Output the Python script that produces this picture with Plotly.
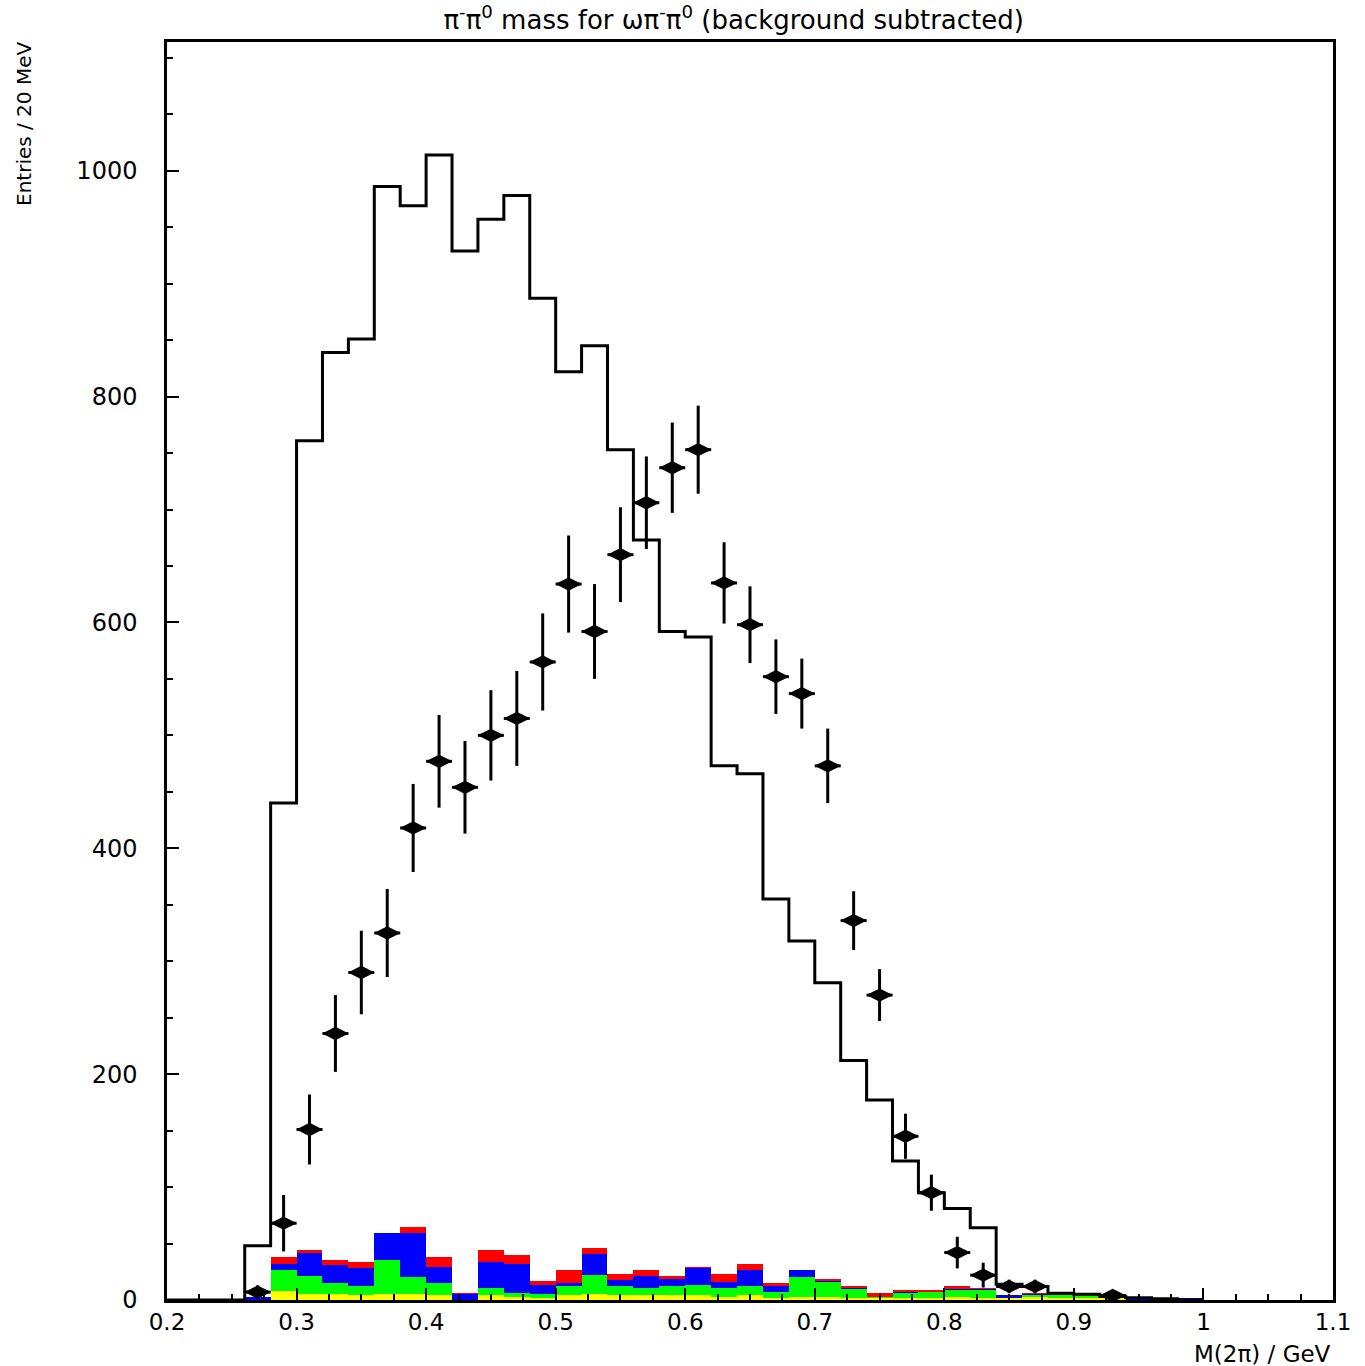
import plotly.graph_objects as go

# ---- data ----
bin_low = [0.20, 0.22, 0.24, 0.26, 0.28, 0.30, 0.32, 0.34, 0.36, 0.38,
           0.40, 0.42, 0.44, 0.46, 0.48, 0.50, 0.52, 0.54, 0.56, 0.58,
           0.60, 0.62, 0.64, 0.66, 0.68, 0.70, 0.72, 0.74, 0.76, 0.78,
           0.80, 0.82, 0.84, 0.86, 0.88, 0.90, 0.92, 0.94, 0.96, 0.98]
bin_width = 0.02

mc_hist = [0, 0, 0, 48, 440, 761, 839, 851, 986, 969,
           1014, 929, 957, 978, 887, 822, 845, 753, 673, 592,
           587, 473, 466, 355, 318, 281, 212, 177, 123, 95,
           81, 64, 14, 12, 6, 5, 3, 2, 1, 0]

bkg_red = [0, 0, 0, 3, 38, 44, 35, 34, 59, 65,
           38, 6, 44, 40, 17, 27, 46, 23, 27, 21,
           29, 23, 32, 15, 27, 19, 12, 6, 9, 9,
           12, 11, 4, 6, 5, 6, 5, 3, 2, 1]
bkg_blue = [0, 0, 0, 3, 32, 42, 31, 28, 59, 59,
            29, 5, 34, 32, 13, 15, 41, 18, 21, 19,
            28, 16, 27, 12, 27, 17, 11, 3, 7, 7,
            10, 10, 4, 5, 4, 6, 5, 3, 2, 1]
bkg_green = [0, 0, 0, 0, 27, 21, 15, 12, 35, 20,
             15, 0, 11, 6, 5, 12, 22, 12, 11, 12,
             13, 11, 12, 7, 20, 16, 10, 3, 6, 7,
             9, 9, 2, 4, 4, 5, 3, 0, 0, 0]
bkg_yellow = [0, 0, 0, 0, 8, 5, 5, 4, 5, 5,
              4, 0, 4, 3, 2, 4, 5, 4, 4, 4,
              4, 3, 4, 2, 3, 3, 2, 1, 2, 2,
              3, 2, 1, 3, 2, 2, 1, 0, 0, 0]

data_x = [0.27, 0.29, 0.31, 0.33, 0.35, 0.37, 0.39, 0.41, 0.43, 0.45,
          0.47, 0.49, 0.51, 0.53, 0.55, 0.57, 0.59, 0.61, 0.63, 0.65,
          0.67, 0.69, 0.71, 0.73, 0.75, 0.77, 0.79, 0.81, 0.83, 0.85,
          0.87, 0.93]
data_y = [7, 68, 151, 236, 290, 325, 418, 477, 454, 500,
          515, 565, 634, 592, 660, 706, 737, 753, 635, 598,
          552, 537, 473, 336, 270, 145, 95, 42, 22, 12,
          12, 4]
data_err = [6, 25, 31, 34, 37, 39, 39, 41, 41, 40,
            42, 43, 43, 42, 42, 41, 40, 39, 36, 34,
            33, 31, 33, 26, 23, 20, 16, 14, 11, 6,
            6, 4]

x_ticks = [0.2, 0.3, 0.4, 0.5, 0.6, 0.7, 0.8, 0.9, 1.0, 1.1]
x_tick_labels = ["0.2", "0.3", "0.4", "0.5", "0.6", "0.7", "0.8", "0.9", "1", "1.1"]
y_ticks = [0, 200, 400, 600, 800, 1000]
y_tick_labels = ["0", "200", "400", "600", "800", "1000"]

FONT = "DejaVu Sans"

fig = go.Figure()

bin_centre = [b + bin_width / 2 for b in bin_low]
for vals, col in [(bkg_red, "#ff0000"), (bkg_blue, "#0000ff"),
                  (bkg_green, "#00ff00"), (bkg_yellow, "#ffff00")]:
    fig.add_trace(go.Bar(x=bin_centre, y=vals, width=bin_width,
                         marker=dict(color=col, line=dict(width=0)),
                         showlegend=False, hoverinfo="skip"))

# step outline of MC histogram
step_x = bin_low + [bin_low[-1] + bin_width]
step_y = mc_hist + [mc_hist[-1]]
fig.add_trace(go.Scatter(x=step_x, y=step_y, mode="lines",
                         line=dict(color="black", width=3, shape="hv"),
                         showlegend=False, hoverinfo="skip"))

# data points
fig.add_trace(go.Scatter(
    x=data_x, y=data_y, mode="markers",
    marker=dict(symbol="diamond-wide", size=19, color="black"),
    error_y=dict(type="data", array=data_err, thickness=3, width=0, color="black"),
    error_x=dict(type="constant", value=bin_width / 2, thickness=3, width=0, color="black"),
    showlegend=False))

fig.update_layout(
    width=1365, height=1366,
    margin=dict(l=167, r=32, t=42, b=66, autoexpand=False),
    paper_bgcolor="white", plot_bgcolor="white",
    barmode="overlay", bargap=0,
    font=dict(family=FONT, color="black", size=24),
    title=dict(text="π<sup>-</sup>π<sup>0</sup> mass for ωπ<sup>-</sup>π<sup>0</sup> (background subtracted)",
               x=0.486, xref="paper", xanchor="center",
               y=1 - 20 / 1366, yref="container", yanchor="middle",
               font=dict(family=FONT, size=26, color="black")),
    xaxis=dict(range=[0.2, 1.1], tickvals=x_ticks, ticktext=x_tick_labels,
               ticks="inside", ticklen=12, tickwidth=2, tickcolor="black",
               showline=True, linewidth=2.5, linecolor="black", mirror=True,
               showgrid=False, zeroline=False, ticklabelstandoff=0,
               tickfont=dict(family=FONT, size=23),
               minor=dict(dtick=0.025, tick0=0.2, ticks="inside", ticklen=6,
                          tickwidth=2, tickcolor="black", showgrid=False)),
    yaxis=dict(range=[0, 1114], tickvals=y_ticks, ticktext=y_tick_labels,
               ticks="inside", ticklen=12, tickwidth=2, tickcolor="black",
               showline=True, linewidth=2.5, linecolor="black", mirror=True,
               showgrid=False, zeroline=False, ticklabelstandoff=22,
               tickfont=dict(family=FONT, size=24),
               minor=dict(dtick=50, tick0=0, ticks="inside", ticklen=6,
                          tickwidth=2, tickcolor="black", showgrid=False)),
    annotations=[
        dict(text="Entries / 20 MeV", textangle=-90, showarrow=False,
             xref="paper", yref="paper", x=(24 - 167) / 1166, y=(1300 - 40) / 1258,
             xanchor="center", yanchor="top", font=dict(family=FONT, size=20)),
        dict(text="M(2π) / GeV", showarrow=False,
             xref="paper", yref="paper", x=1.0, y=(1300 - 1354) / 1258,
             xanchor="right", yanchor="middle", font=dict(family=FONT, size=23)),
    ],
)

fig.write_html("out.html")
